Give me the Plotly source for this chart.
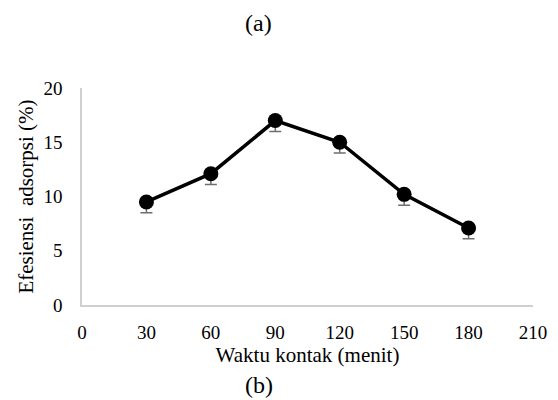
import plotly.graph_objects as go

waktu = [30, 60, 90, 120, 150, 180]
efisiensi = [9.5, 12.1, 17.0, 15.0, 10.2, 7.1]
err_minus = [1.0, 1.0, 1.0, 1.0, 1.0, 1.0]
x_ticks = [0, 30, 60, 90, 120, 150, 180, 210]
y_ticks = [0, 5, 10, 15, 20]

font = "Liberation Serif, Times New Roman, serif"

# page body has an 8px default margin -> compensate
OFF = 8
W, H = 558 - OFF, 400 - OFF
L, R, T, B = 82 - OFF, 25, 88 - OFF, 95

fig = go.Figure()
# error bars (drawn first, behind markers)
fig.add_trace(go.Scatter(
    x=waktu, y=efisiensi, mode="markers",
    marker=dict(size=1, color="rgba(0,0,0,0)"),
    error_y=dict(type="data", symmetric=False, array=[0]*len(waktu),
                 arrayminus=err_minus, color="#6f6f6f", thickness=1.5, width=6),
    showlegend=False, hoverinfo="skip"))
fig.add_trace(go.Scatter(
    x=waktu, y=efisiensi, mode="lines+markers",
    line=dict(color="black", width=3.5),
    marker=dict(size=15, color="black"),
    showlegend=False))

fig.update_layout(
    width=W, height=H,
    margin=dict(l=L, r=R, t=T, b=B, autoexpand=False),
    paper_bgcolor="white", plot_bgcolor="white",
    font=dict(family=font, size=19, color="black"),
    xaxis=dict(range=[0, 210], tickvals=x_ticks, showgrid=False, zeroline=False,
               showline=True, linecolor="#d0d0d0", linewidth=1.5, ticks="",
               ticklabelstandoff=9,
               title=dict(text="Waktu kontak (menit)", standoff=4,
                          font=dict(size=21))),
    yaxis=dict(range=[0, 20], tickvals=y_ticks, showgrid=False, zeroline=False,
               showline=True, linecolor="#d0d0d0", linewidth=1.5, ticks="",
               ticklabelstandoff=14,
               title=dict(text="Efesiensi  adsorpsi (%)", standoff=4,
                          font=dict(size=21))),
)
pw, ph = W - L - R, H - T - B
def ann(text, px, py):
    # px, py in reference picture pixels from top-left
    fig.add_annotation(text=text, x=(px - OFF - L) / pw, y=((H - (py - OFF)) - B) / ph,
                       xref="paper", yref="paper", showarrow=False,
                       xanchor="center", yanchor="middle", font=dict(size=24),
                       borderpad=0)
ann("(a)", 258, 23)
ann("(b)", 259, 385)

fig.write_html("out.html")
